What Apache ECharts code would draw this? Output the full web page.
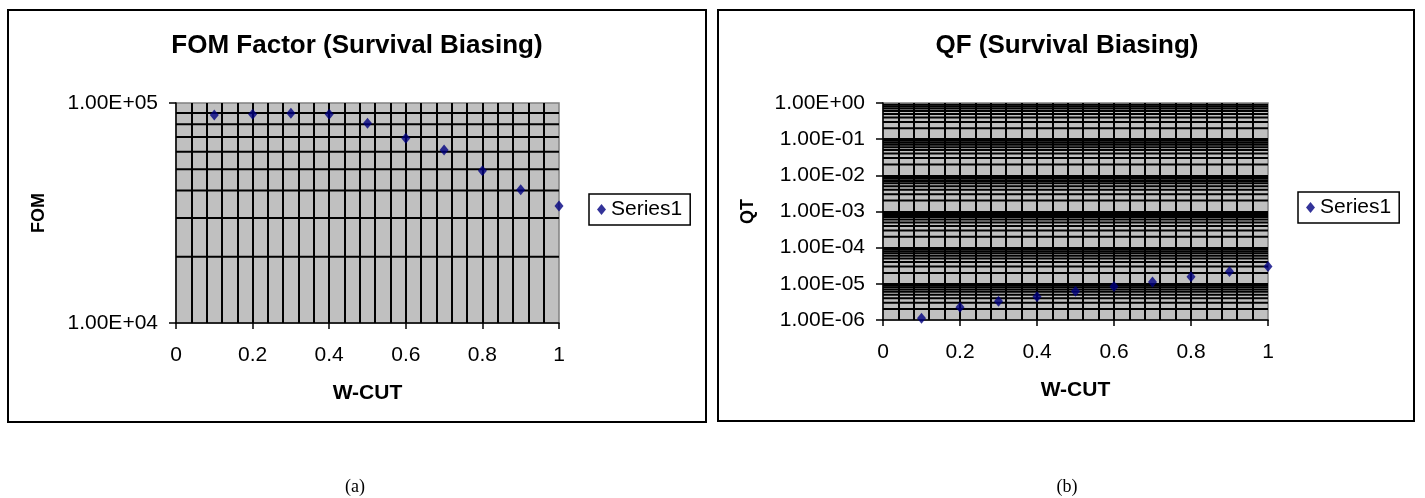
<!DOCTYPE html>
<html>
<head>
<meta charset="utf-8">
<script src="https://cdn.jsdelivr.net/npm/echarts@6/dist/echarts.min.js"></script>
<style>
html,body{margin:0;padding:0;background:#fff;}
#c{width:1425px;height:498px;}
</style>
</head>
<body>
<div id="c"></div>
<script>
// ---- data ----
const wcut = [0.1, 0.2, 0.3, 0.4, 0.5, 0.6, 0.7, 0.8, 0.9, 1.0];
const fom = [88200, 89000, 89800, 88900, 80900, 69100, 61150, 49200, 40360, 34050];
const qf = [1.11e-6, 2.25e-6, 3.3e-6, 4.4e-6, 6.2e-6, 8.4e-6, 1.13e-5, 1.58e-5, 2.18e-5, 3.0e-5];
const seriesName = 'Series1';
const titleA = 'FOM Factor (Survival Biasing)';
const titleB = 'QF (Survival Biasing)';
const xName = 'W-CUT';
const yNameA = 'FOM';
const yNameB = 'QT';
const panelA = '(a)';
const panelB = '(b)';

function sci(v){
  let s = v.toExponential(2).toUpperCase();
  let m = s.match(/^([\d.]+)E([+-])(\d+)$/);
  if(!m) return s;
  let e = m[3].length < 2 ? '0' + m[3] : m[3];
  return m[1] + 'E' + m[2] + e;
}
// log minor gridline levels (2..9 x 10^e) for each decade
function minorLevels(loExp, hiExp){
  const out = [];
  for(let e = loExp; e < hiExp; e++){
    for(let k = 2; k <= 9; k++) out.push(Number((k * Math.pow(10, e)).toPrecision(3)));
  }
  return out;
}

const FONT = 'Liberation Sans, Arial, sans-serif';
const chart = echarts.init(document.getElementById('c'), null, {renderer:'canvas'});

function xAxisCfg(gi){
  return {
    type:'value', gridIndex:gi, min:0, max:1, interval:0.2,
    axisLine:{show:true, onZero:false, lineStyle:{color:'#000', width:1.5}},
    axisTick:{show:true, length:6, lineStyle:{color:'#000', width:1.5}},
    axisLabel:{color:'#000', fontFamily:FONT, fontSize:21, margin:22,
      formatter:v => (Math.round(v*10)/10).toString()},
    splitLine:{show:true, showMinLine:false, showMaxLine:false, lineStyle:{color:'#000', width:2}},
    minorTick:{show:false, splitNumber:5},
    minorSplitLine:{show:true, lineStyle:{color:'#000', width:2}},
    name:xName, nameLocation:'middle', nameGap:60,
    nameTextStyle:{color:'#000', fontFamily:FONT, fontSize:21, fontWeight:'bold'}
  };
}
function yAxisCfg(gi, min, max, name, gap){
  return {
    type:'log', logBase:10, gridIndex:gi, min:min, max:max, interval:1,
    axisLine:{show:true, lineStyle:{color:'#000', width:1.5}},
    axisTick:{show:true, length:7, lineStyle:{color:'#000', width:1.5}},
    axisLabel:{color:'#000', fontFamily:FONT, fontSize:21, margin:18, formatter:v => sci(v)},
    splitLine:{show:true, showMinLine:false, showMaxLine:false, lineStyle:{color:'#000', width:2}},
    name:name, nameLocation:'middle', nameGap:gap, nameRotate:90,
    nameTextStyle:{color:'#000', fontFamily:FONT, fontSize:18, fontWeight:'bold'}
  };
}
function gridLineSeries(gi, levels){
  return levels.map(v => ({
    type:'line', xAxisIndex:gi, yAxisIndex:gi, silent:true,
    showSymbol:false, symbol:'none', z:1,
    lineStyle:{color:'#000', width:2},
    emphasis:{disabled:true}, tooltip:{show:false},
    data:[[0, v], [1, v]]
  }));
}

const legendCfg = (left, top) => ({
  left:left, top:top, data:[seriesName], orient:'vertical',
  borderColor:'#000', borderWidth:1.5, padding:[5,8,5,8],
  itemWidth:9, itemHeight:11, icon:'diamond', selectedMode:false,
  textStyle:{fontFamily:FONT, fontSize:21, color:'#000'}
});

const option = {
  animation:false,
  backgroundColor:'#fff',
  title:[
    {text:titleA, left:352, top:28, textAlign:'center',
      textStyle:{fontFamily:FONT, fontSize:26, fontWeight:'bold', color:'#000'}},
    {text:titleB, left:1062, top:28, textAlign:'center',
      textStyle:{fontFamily:FONT, fontSize:26, fontWeight:'bold', color:'#000'}},
    {text:panelA, left:350, top:473, textAlign:'center',
      textStyle:{fontFamily:'Liberation Serif, Times New Roman, serif', fontSize:18, fontWeight:'normal', color:'#000'}},
    {text:panelB, left:1062, top:473, textAlign:'center',
      textStyle:{fontFamily:'Liberation Serif, Times New Roman, serif', fontSize:18, fontWeight:'normal', color:'#000'}}
  ],
  legend:[legendCfg(589, 194), legendCfg(1298, 192)],
  grid:[
    {left:176, top:103, width:383, height:220, show:true, backgroundColor:'#c0c0c0',
      borderColor:'#808080', borderWidth:1.5, containLabel:false},
    {left:883, top:103, width:385, height:217, show:true, backgroundColor:'#c0c0c0',
      borderColor:'#808080', borderWidth:1.5, containLabel:false}
  ],
  xAxis:[xAxisCfg(0), xAxisCfg(1)],
  yAxis:[yAxisCfg(0, 1e4, 1e5, yNameA, 128), yAxisCfg(1, 1e-6, 1, yNameB, 126)],
  series:[
    ...gridLineSeries(0, minorLevels(4, 5)),
    ...gridLineSeries(1, minorLevels(-6, 0)),
    {name:seriesName, type:'scatter', xAxisIndex:0, yAxisIndex:0,
      symbol:'diamond', symbolSize:[9,11], itemStyle:{color:'#000080'},
      data: wcut.map((x,i)=>[x, fom[i]]), z:5},
    {name:seriesName, type:'scatter', xAxisIndex:1, yAxisIndex:1,
      symbol:'diamond', symbolSize:[9,11], itemStyle:{color:'#000080'},
      data: wcut.map((x,i)=>[x, qf[i]]), z:5}
  ],
  graphic:[
    {type:'rect', shape:{x:8, y:10, width:698, height:412},
      style:{fill:'none', stroke:'#000', lineWidth:2}, silent:true},
    {type:'rect', shape:{x:718, y:10, width:696, height:411},
      style:{fill:'none', stroke:'#000', lineWidth:2}, silent:true}
  ]
};
chart.setOption(option);
</script>
</body>
</html>
